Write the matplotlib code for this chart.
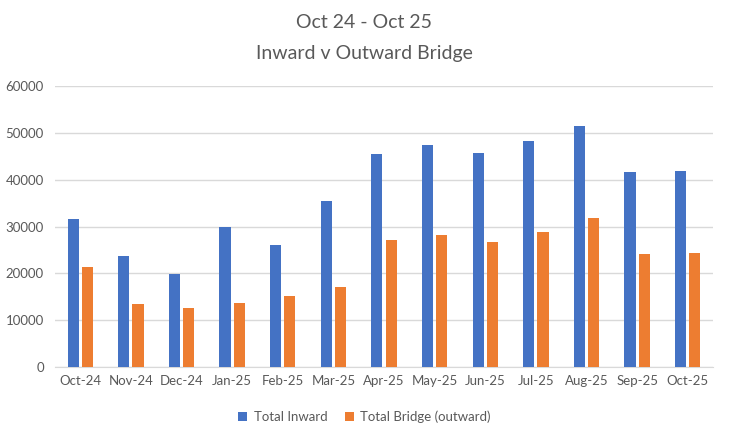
import matplotlib
matplotlib.use("Agg")
import matplotlib.pyplot as plt
import numpy as np

months = ["Oct-24", "Nov-24", "Dec-24", "Jan-25", "Feb-25", "Mar-25", "Apr-25",
          "May-25", "Jun-25", "Jul-25", "Aug-25", "Sep-25", "Oct-25"]
total_inward = [31600, 23700, 19800, 29900, 26000, 35400, 45500,
                47400, 45700, 48300, 51500, 41600, 41800]
total_bridge = [21300, 13400, 12500, 13600, 15100, 17000, 27100,
                28200, 26700, 28800, 31800, 24100, 24300]
yticks = [0, 10000, 20000, 30000, 40000, 50000, 60000]

plt.rcParams['font.family'] = ['Lato', 'DejaVu Sans']
grey = "#595959"

fig = plt.figure(figsize=(7.29, 4.42), dpi=100)
ax = fig.add_axes([55/729, 1-367/442, (713-55)/729, (367-86)/442])

x = np.arange(len(months))
w = 0.22
ax.bar(x - 0.14, total_inward, width=w, color="#4472C4", label="Total Inward", zorder=3)
ax.bar(x + 0.14, total_bridge, width=w, color="#ED7D31", label="Total Bridge (outward)", zorder=3)

ax.set_xlim(-0.5, len(months) - 0.5)
ax.set_ylim(0, 60000)
ax.set_yticks(yticks)
ax.set_yticklabels([str(v) for v in yticks])
ax.set_xticks(x)
ax.set_xticklabels(months)
ax.tick_params(axis='both', length=0, colors=grey, labelsize=9.5)
ax.tick_params(axis='y', pad=8)
ax.tick_params(axis='x', pad=6)
ax.grid(axis='y', color="#D9D9D9", linewidth=1, zorder=0)
for s in ["top", "right", "left"]:
    ax.spines[s].set_visible(False)
ax.spines["bottom"].set_color("#D9D9D9")

fig.text(0.5, 1-22/442, "Oct 24 - Oct 25", ha='center', va='center', fontsize=14, color=grey)
fig.text(0.5, 1-53/442, "Inward v Outward Bridge", ha='center', va='center', fontsize=14, color=grey)

fig.legend(loc='center', bbox_to_anchor=(0.5, 1-417/442), ncol=2, frameon=False,
           fontsize=9.5, labelcolor=grey, handlelength=0.7, handleheight=0.7,
           columnspacing=1.3, handletextpad=0.5)

fig.savefig("out.png", dpi=100)
